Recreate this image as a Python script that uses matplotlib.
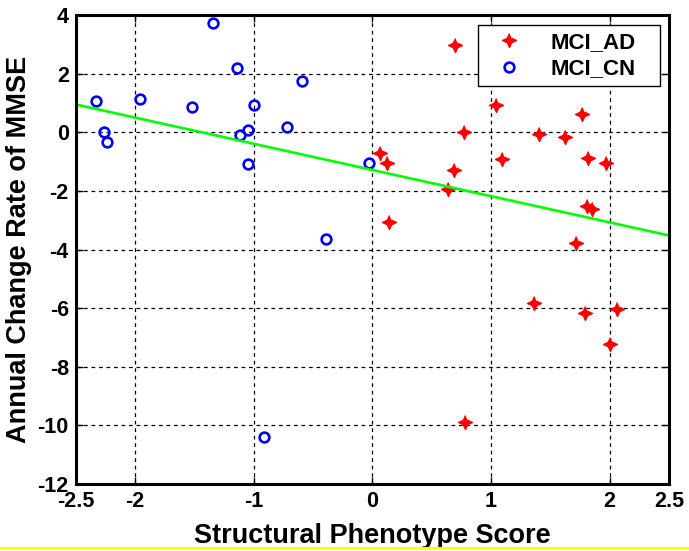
import numpy as np
import matplotlib.pyplot as plt
from matplotlib.lines import Line2D

# MCI_AD group (red stars)
ad_x = [0.70, 1.04, 1.77, 0.77, 1.40, 1.62, 0.06, 0.12, 1.09, 1.82, 1.97,
        0.69, 0.64, 1.81, 1.85, 0.14, 1.72, 1.36, 1.79, 2.06, 2.00, 0.78]
ad_y = [2.98, 0.92, 0.61, 0.00, -0.05, -0.15, -0.70, -1.04, -0.91, -0.86, -1.06,
        -1.27, -1.93, -2.51, -2.62, -3.06, -3.79, -5.84, -6.15, -6.04, -7.22, -9.88]

# MCI_CN group (blue circles)
cn_x = [-2.33, -2.26, -2.24, -1.96, -1.52, -1.34, -1.14, -1.12, -1.05, -1.00,
        -1.05, -0.72, -0.59, -0.39, -0.03, -0.91]
cn_y = [1.08, 0.00, -0.32, 1.12, 0.87, 3.74, 2.19, -0.09, 0.08, 0.92,
        -1.08, 0.19, 1.74, -3.64, -1.03, -10.39]

# fitted line end points
fit_x = [-2.5, 2.5]
fit_y = [0.95, -3.52]

xticks = [-2.5, -2, -1, 0, 1, 2, 2.5]
xticklabels = ['-2.5', '-2', '-1', '0', '1', '2', '2.5']
yticks = list(range(-12, 5, 2))

plt.rcParams['font.family'] = ['Liberation Sans', 'DejaVu Sans']
plt.rcParams['font.weight'] = 'bold'
plt.rcParams['axes.unicode_minus'] = False

# fat four point star like the matlab marker after resampling
ang = np.deg2rad(np.arange(0, 360, 45) + 90)
rad = np.array([1.0, 0.45] * 4)
star = list(zip(rad * np.cos(ang), rad * np.sin(ang)))

fig = plt.figure(figsize=(6.89, 5.51), dpi=100)
ax = fig.add_axes([0.110, 0.1216, 0.861, 0.851])

ax.plot(ad_x, ad_y, linestyle='none', marker=star, markersize=10,
        color='#ff0000', label='MCI_AD')
ax.plot(cn_x, cn_y, linestyle='none', marker='o', markersize=7,
        markerfacecolor='none', markeredgecolor='#0000ff', markeredgewidth=1.9,
        label='MCI_CN')
ax.plot(fit_x, fit_y, color='#00ff00', linewidth=1.9)

ax.set_xlim(-2.5, 2.5)
ax.set_ylim(-12, 4)
ax.set_xticks(xticks)
ax.set_xticklabels(xticklabels)
ax.set_yticks(yticks)

# grid only inside, dashed black
for gx in [-2, -1, 0, 1, 2]:
    ax.axvline(gx, color='black', linewidth=0.9, linestyle=(0, (3, 3)), zorder=0)
for gy in yticks[1:-1]:
    ax.axhline(gy, color='black', linewidth=0.9, linestyle=(0, (3, 3)), zorder=0)

for s in ax.spines.values():
    s.set_linewidth(2.2)

ax.tick_params(direction='in', length=5, width=1, top=True, right=True,
               labelsize=15.5, pad=5)
for lab in ax.get_xticklabels() + ax.get_yticklabels():
    lab.set_fontweight('bold')

ax.set_xlabel('Structural Phenotype Score', fontsize=19.5, fontweight='bold', labelpad=8)
ax.set_ylabel('Annual Change Rate of MMSE', fontsize=19.5, fontweight='bold', labelpad=4)

leg = ax.legend(loc='upper left', bbox_to_anchor=(0.678, 0.80, 0.307, 0.1787),
                mode='expand', borderaxespad=0, fontsize=16, frameon=True,
                fancybox=False, edgecolor='black', framealpha=1, borderpad=0.3,
                handletextpad=0.75, handlelength=2.2, labelspacing=0.25)
leg.get_frame().set_linewidth(1.0)
for t in leg.get_texts():
    t.set_fontweight('bold')

# yellow rule at the bottom edge of the picture
fig.add_artist(Line2D([0, 1], [0.006, 0.006], transform=fig.transFigure,
                      color='#ffff00', linewidth=1.5))

fig.savefig('out.png', dpi=100)
